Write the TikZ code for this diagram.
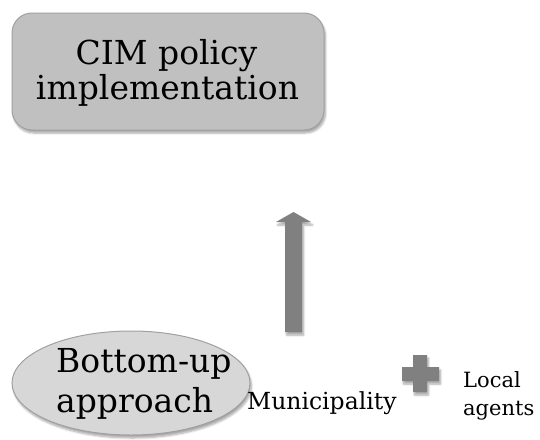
\documentclass[tikz,border=0pt]{standalone}
\usepackage{fontspec}
\setmainfont{DejaVu Serif}
\usetikzlibrary{shadows.blur,shapes.geometric}
\definecolor{boxfill}{RGB}{192,192,192}
\definecolor{ellfill}{RGB}{215,215,215}
\definecolor{edge}{RGB}{160,160,160}
\definecolor{dark}{RGB}{128,128,128}
\tikzset{
  softshadow/.style={blur shadow={shadow xshift=1.5pt,shadow yshift=-3pt,shadow blur steps=6,shadow opacity=35}},
  bigtext/.style={font=\fontsize{33}{36}\selectfont,inner sep=0pt},
  smalltext/.style={font=\fontsize{23.5}{27}\selectfont,inner sep=0pt,anchor=base west},
  sidetext/.style={smalltext,font=\fontsize{21}{25}\selectfont},
}
\begin{document}
\begin{tikzpicture}[x=1pt,y=-1pt]
\useasboundingbox (0,0) rectangle (540,439);
% policy box
\node[draw=edge,line width=1pt,fill=boxfill,rounded corners=20pt,softshadow,
      minimum width=312pt,minimum height=117pt] (policy) at (168,71.5) {};
\node[bigtext,anchor=base] (policy1) at (166.5,64) {CIM policy};
\node[bigtext,anchor=base] (policy2) at (167.5,99) {implementation};
% upward arrow
\path[fill=dark,softshadow] (285,332) -- (285,222) -- (276,222) -- (293.5,212)
      -- (311,222) -- (302,222) -- (302,332) -- cycle;
\coordinate (arrowtop) at (293.5,212);
% bottom-up ellipse
\node[ellipse,draw=edge,line width=1pt,fill=ellfill,softshadow,
      minimum width=238pt,minimum height=104pt,inner sep=0pt] (bottom) at (131,383) {};
\node[bigtext,anchor=base west] (bottom1) at (56,372) {Bottom-up};
\node[bigtext,anchor=base west] (bottom2) at (56,412) {approach};
% municipality label
\node[smalltext] (muni) at (247,409) {Municipality};
% plus sign
\path[fill=dark,softshadow] (413,355) -- (427,355) -- (427,367) -- (439,367) -- (439,381)
      -- (427,381) -- (427,392) -- (413,392) -- (413,381) -- (402,381) -- (402,367)
      -- (413,367) -- cycle;
\coordinate (plus) at (420,373.5);
% local agents label
\node[sidetext] (local) at (463,387) {Local};
\node[sidetext] (agents) at (463,415) {agents};
\end{tikzpicture}
\end{document}
